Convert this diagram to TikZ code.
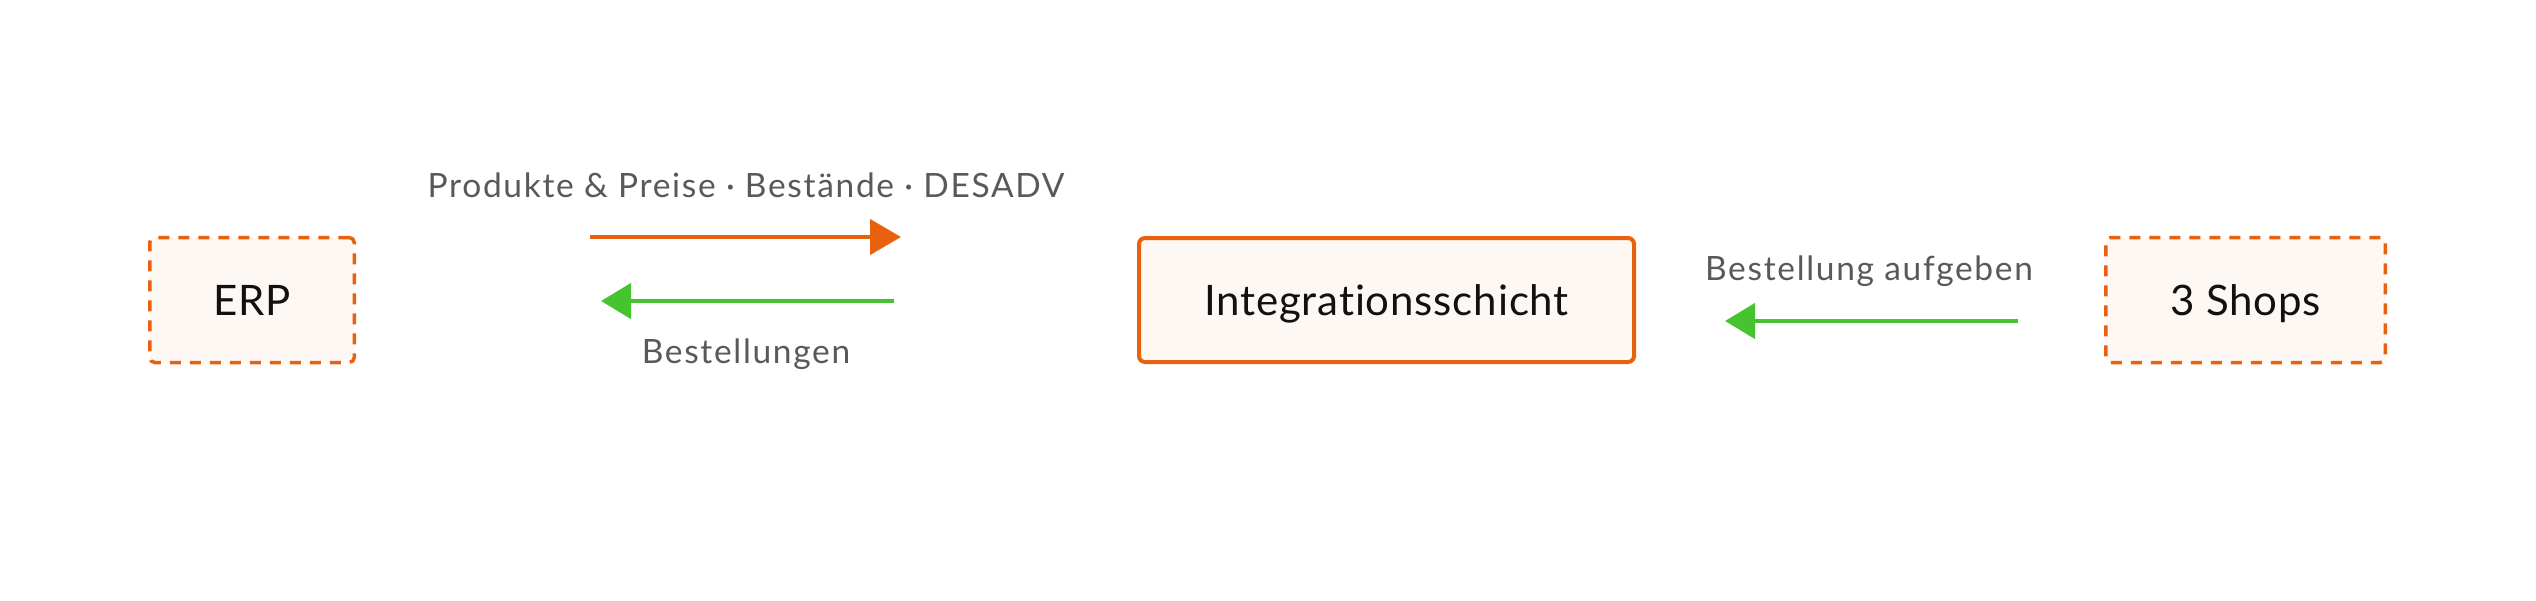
\documentclass[tikz,border=0pt]{standalone}
\usepackage{fontspec}
\setmainfont{Lato}
\newfontfamily\boxfont[LetterSpace=2,Ligatures=NoCommon]{Lato}
\newfontfamily\lblfont[LetterSpace=5,Ligatures=NoCommon]{Lato}
\usetikzlibrary{arrows.meta}
\definecolor{orng}{HTML}{E8610F}
\definecolor{grn}{HTML}{46C42F}
\definecolor{crm}{HTML}{FEF8F4}
\definecolor{lbl}{HTML}{5C5858}
\definecolor{ink}{HTML}{111111}
\begin{document}
\begin{tikzpicture}[x=1pt,y=-1pt,
  sysbox/.style={draw=orng, fill=crm, line width=3.5pt, dash pattern=on 11pt off 9pt, rounded corners=5pt,
     minimum height=125pt, outer sep=0pt, text=ink, text height=30pt, text depth=0pt,
     font=\boxfont\fontsize{42}{50}\selectfont},
  corebox/.style={draw=orng, fill=crm, line width=4pt, rounded corners=6pt,
     minimum height=124pt, outer sep=0pt, text=ink, text height=30pt, text depth=0pt,
     font=\boxfont\fontsize{42}{50}\selectfont},
  flowlbl/.style={text=lbl, font=\lblfont\fontsize{33.5}{40}\selectfont, inner sep=0pt},
  orarrow/.style={draw=orng, line width=4.5pt, -{Triangle[length=31pt,width=35pt]}},
  grarrow/.style={draw=grn, line width=4.5pt, -{Triangle[length=30pt,width=35pt]}}]
\useasboundingbox (0,0) rectangle (2536,600);
\node[sysbox, minimum width=204.5pt] (erp) at (252,300) {ERP};
\node[corebox, minimum width=495pt] (integ) at (1386.5,300) {Integrationsschicht};
\node[sysbox, minimum width=279.5pt] (shops) at (2245.5,300) {3 Shops};
\draw[orarrow, shorten <=235.75pt, shorten >=238pt] ([yshift=63pt]erp.east) -- ([yshift=63pt]integ.west);
\draw[grarrow, shorten <=245pt, shorten >=246.75pt] ([yshift=-1pt]integ.west) -- ([yshift=-1pt]erp.east);
\draw[grarrow, shorten <=87.75pt, shorten >=91pt] ([yshift=-21pt]shops.west) -- ([yshift=-21pt]integ.east);
\node[flowlbl, anchor=base] (l1) at (746,197) {Produkte \& Preise · Bestände · DESADV};
\node[flowlbl, anchor=base] (l2) at (746,363) {Bestellungen};
\node[flowlbl, anchor=base] (l3) at (1869,280) {Bestellung aufgeben};
\end{tikzpicture}
\end{document}
